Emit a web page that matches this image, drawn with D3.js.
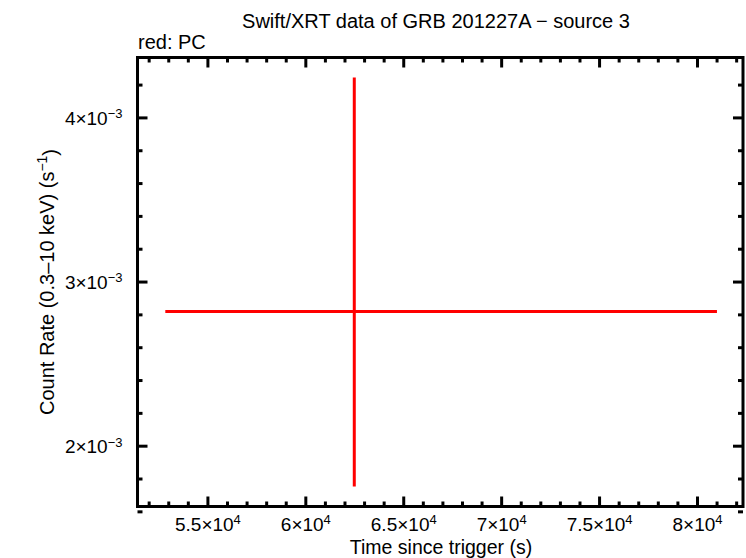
<!DOCTYPE html>
<html><head><meta charset="utf-8">
<script src="https://cdn.jsdelivr.net/npm/d3@7"></script>
<style>body{margin:0;background:#fff}svg{display:block;font-family:"Liberation Sans",Arial,Helvetica,sans-serif}</style>
</head><body>
<script>
const title = "Swift/XRT data of GRB 201227A \u2212 source 3";
const subtitle = "red: PC";
const xLabel = "Time since trigger (s)";
const timeCenter = [62500];
const timeLow = [52850];
const timeHigh = [81020];
const rateCenter = [2.818e-3];
const rateLow = [1.751e-3];
const rateHigh = [4.243e-3];
const xMajorTicks = [55000, 60000, 65000, 70000, 75000, 80000];
const xTickMant = ["5.5", "6", "6.5", "7", "7.5", "8"];
const yMajorTicks = [0.002, 0.003, 0.004];
const yTickMant = ["2", "3", "4"];

const W = 746, H = 558;
const L = 137.5, R = 743, T = 57.5, B = 506.5;
const FONT = "Liberation Sans, Arial, sans-serif";
const svg = d3.select("body").append("svg").attr("width", W).attr("height", H);

const x = d3.scaleLinear().domain([51430, 82350]).range([L, R]);
const y = d3.scaleLinear().domain([0.0016295, 0.004365]).range([B, T]);

const xMinor = d3.range(52000, 83000, 1000).filter(v => v % 5000 !== 0);
const yMinor = d3.range(16, 44, 2).map(v => v / 10000).filter(v => Math.abs(v * 1000 - Math.round(v * 1000)) > 1e-9);

function axisGroup(axis, tx, ty) {
  const g = svg.append("g").attr("transform", `translate(${tx},${ty})`).call(axis);
  g.select(".domain").remove();
  g.selectAll(".tick line").attr("stroke", "#000").attr("stroke-width", 3);
  return g;
}
const bx = axisGroup(d3.axisBottom(x).tickValues(xMajorTicks).tickSize(-10).tickPadding(11), 0, B);
axisGroup(d3.axisTop(x).tickValues(xMajorTicks).tickSize(-10).tickFormat(""), 0, T);
axisGroup(d3.axisBottom(x).tickValues(xMinor).tickSize(-5).tickFormat(""), 0, B);
axisGroup(d3.axisTop(x).tickValues(xMinor).tickSize(-5).tickFormat(""), 0, T);
const ly = axisGroup(d3.axisLeft(y).tickValues(yMajorTicks).tickSize(-10).tickPadding(15), L, 0);
axisGroup(d3.axisRight(y).tickValues(yMajorTicks).tickSize(-10).tickFormat(""), R, 0);
axisGroup(d3.axisLeft(y).tickValues(yMinor).tickSize(-5).tickFormat(""), L, 0);
axisGroup(d3.axisRight(y).tickValues(yMinor).tickSize(-5).tickFormat(""), R, 0);

bx.selectAll(".tick text").each(function(d, i) {
  const t = d3.select(this).text("").attr("font-size", 19).attr("fill", "#000")
    .attr("font-family", FONT).attr("dy", "0.71em");
  t.append("tspan").text(xTickMant[i] + "\u00d710");
  t.append("tspan").text("4").attr("font-size", 13).attr("dy", "-0.5em");
});
ly.selectAll(".tick text").each(function(d, i) {
  const t = d3.select(this).text("").attr("font-size", 19).attr("fill", "#000")
    .attr("font-family", FONT).attr("dy", "0.36em");
  t.append("tspan").text(yTickMant[i] + "\u00d710");
  t.append("tspan").text("\u22123").attr("font-size", 13).attr("dy", "-0.5em");
});

const pts = timeCenter.map((t, i) => ({t, lo: timeLow[i], hi: timeHigh[i], r: rateCenter[i], rlo: rateLow[i], rhi: rateHigh[i]}));
const dg = svg.append("g");
dg.selectAll("line.h").data(pts).join("line").attr("class", "h")
  .attr("x1", d => x(d.lo)).attr("x2", d => x(d.hi)).attr("y1", d => y(d.r)).attr("y2", d => y(d.r))
  .attr("stroke", "#ff0000").attr("stroke-width", 3);
dg.selectAll("line.v").data(pts).join("line").attr("class", "v")
  .attr("x1", d => x(d.t)).attr("x2", d => x(d.t)).attr("y1", d => y(d.rlo)).attr("y2", d => y(d.rhi))
  .attr("stroke", "#ff0000").attr("stroke-width", 3);

svg.append("rect").attr("x", L).attr("y", T).attr("width", R - L).attr("height", B - T)
  .attr("fill", "none").attr("stroke", "#000").attr("stroke-width", 3);

svg.append("text").attr("x", 436).attr("y", 28).attr("text-anchor", "middle").attr("font-size", 20).text(title);
svg.append("text").attr("x", 138).attr("y", 49).attr("font-size", 20).text(subtitle);
svg.append("text").attr("x", 441).attr("y", 554).attr("text-anchor", "middle").attr("font-size", 19.5).text(xLabel);
const yl = svg.append("text").attr("transform", "translate(54,282) rotate(-90)").attr("text-anchor", "middle").attr("font-size", 20);
yl.append("tspan").text("Count Rate (0.3\u201310 keV) (s");
yl.append("tspan").text("\u22121").attr("font-size", 14).attr("dy", "-0.5em");
yl.append("tspan").text(")").attr("dy", "0.5em");
</script>
</body></html>
